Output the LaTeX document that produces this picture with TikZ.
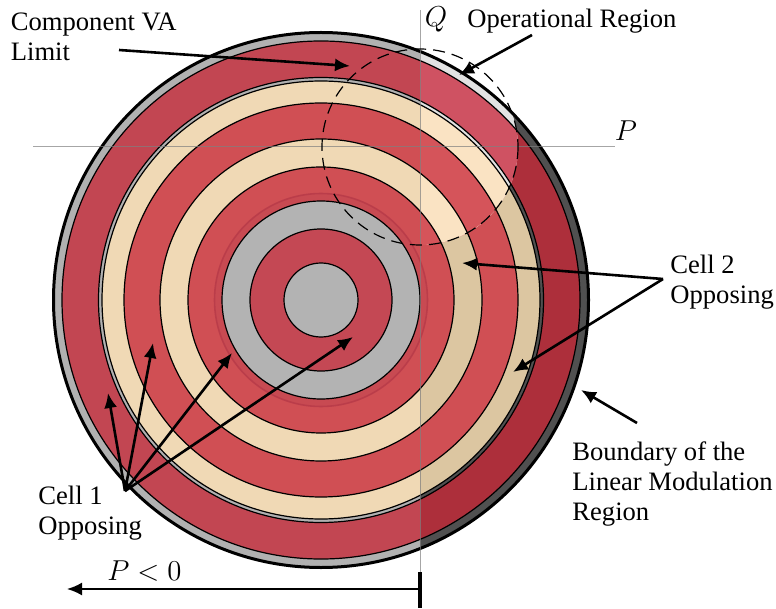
\documentclass[tikz,border=0pt]{standalone}
\usepackage{fontspec}
\setmainfont{Liberation Serif}
\usepackage{tikz}
\usetikzlibrary{arrows.meta,positioning,calc}
\definecolor{cring}{HTML}{B1B1B1}
\definecolor{cringD}{HTML}{505050}
\definecolor{cringL}{HTML}{E2E2E2}
\definecolor{couter}{HTML}{C24652}
\definecolor{couterD}{HTML}{AD2F3B}
\definecolor{couterL}{HTML}{CF5262}
\definecolor{ccream}{HTML}{F0D9B5}
\definecolor{ccreamD}{HTML}{DCC6A1}
\definecolor{ccreamL}{HTML}{FAE3C3}
\definecolor{cred}{HTML}{D04F54}
\definecolor{credL}{HTML}{D5545A}
\definecolor{ccore}{HTML}{C44854}
\definecolor{cband}{HTML}{C84A52}
\definecolor{cbandD}{HTML}{B23545}
\definecolor{cgray}{HTML}{B3B3B3}
\definecolor{caxis}{HTML}{808080}
\tikzset{
  lbl/.style={font=\fontsize{13.3}{15}\selectfont, align=left, inner sep=0pt, anchor=north west},
  mlbl/.style={font=\fontsize{13.3}{15}\selectfont, inner sep=0pt},
  arr/.style={-{Latex[length=7.5pt,width=6.5pt]}, line width=1.3pt},
  ax/.style={draw=caxis, line width=0.5pt, opacity=0.7},
  rline/.style={line width=0.6pt},
  opreg/.style={dash pattern=on 6pt off 3.5pt, line width=0.6pt},
}
% outer gray, outer red, thin ring, cream, red
\newcommand{\ringset}[5]{%
  \fill[#1] (ctr) circle[radius=267];
  \fill[#2] (ctr) circle[radius=259];
  \fill[#3] (ctr) circle[radius=222.5];
  \fill[#4] (ctr) circle[radius=219];
  \fill[#5] (ctr) circle[radius=197];
  \fill[#4] (ctr) circle[radius=161];
  \fill[#5] (ctr) circle[radius=133];
}

\begin{document}
\begin{tikzpicture}[x=0.5pt, y=-0.5pt]
  \useasboundingbox (0,0) rectangle (776,609);
  \coordinate (ctr) at (321,300);
  \coordinate (opc) at (420,147);

  \ringset{cring}{couter}{cring}{ccream}{cred}
  \begin{scope}
    \clip (420,0) rectangle (776,609);
    \ringset{cringD}{couterD}{cringD}{ccreamD}{cred}
    \clip (opc) circle[radius=98];
    \ringset{cringL}{couterL}{cringL}{ccreamL}{credL}
  \end{scope}
  \fill[cband] (ctr) circle[radius=107];
  \draw[cbandD, line width=0.8pt, opacity=0.6] (ctr) circle[radius=106.5];
  \fill[cgray] (ctr) circle[radius=99];
  \fill[ccore] (ctr) circle[radius=71];
  \fill[cgray] (ctr) circle[radius=37];
  \foreach \r in {259,222.5,219,197,161,133,99,71,37}
    \draw[rline] (ctr) circle[radius=\r];
  \draw[line width=1.5pt] (ctr) circle[radius=267.5];

  % P-Q axes and operational region
  \coordinate (qtop) at (420,10);
  \coordinate (qbot) at (420,572);
  \coordinate (pl) at (33,147);
  \coordinate (pr) at (615,147);
  \draw[ax] (qtop) -- (qbot);
  \draw[ax] (pl) -- (pr);
  \draw[opreg] (opc) circle[radius=98];
  \node[mlbl] (qlab) at (436,19) {$Q$};
  \node[mlbl] (plab) at (626,131) {$P$};

  \node[lbl] (va) at (10.5,12.5) {Component VA\\Limit};
  \node[lbl] (opr) at (467,8.5) {Operational Region};
  \node[lbl] (cell2) at (670,255) {Cell 2\\Opposing};
  \node[lbl] (bnd) at (572,441.5) {Boundary of the\\Linear Modulation\\Region};
  \node[lbl] (cell1) at (38,485.5) {Cell 1\\Opposing};
  \node[mlbl, anchor=base west] (pneg) at (107,580) {$P<0$};

  \coordinate (vaS) at (119,50);   \coordinate (vaT) at (350,66);
  \coordinate (opS) at (532,35);   \coordinate (opT) at (459,75);
  \coordinate (c2S) at (663,279);  \coordinate (c2a) at (462,263);
  \coordinate (c2b) at (513,372);
  \coordinate (bS) at (637,423);   \coordinate (bT) at (581,390);
  \coordinate (c1S) at (125,491);
  \coordinate (c1a) at (108,393);  \coordinate (c1b) at (153,343);
  \coordinate (c1c) at (232,353);  \coordinate (c1d) at (353,337);
  \draw[arr] (vaS) -- (vaT);
  \draw[arr] (opS) -- (opT);
  \draw[arr] (c2S) -- (c2a);
  \draw[arr] (c2S) -- (c2b);
  \draw[arr] (bS) -- (bT);
  \foreach \t in {c1a,c1b,c1c,c1d}
    \draw[arr] (c1S) -- (\t);

  \coordinate (porg) at (420,589);
  \coordinate (pend) at (67,589);
  \coordinate (tkT) at (420,572);
  \coordinate (tkB) at (420,608);
  \draw[arr, line width=1pt] (porg) -- (pend);
  \draw[line width=1.6pt] (tkT) -- (tkB);
\end{tikzpicture}
\end{document}
